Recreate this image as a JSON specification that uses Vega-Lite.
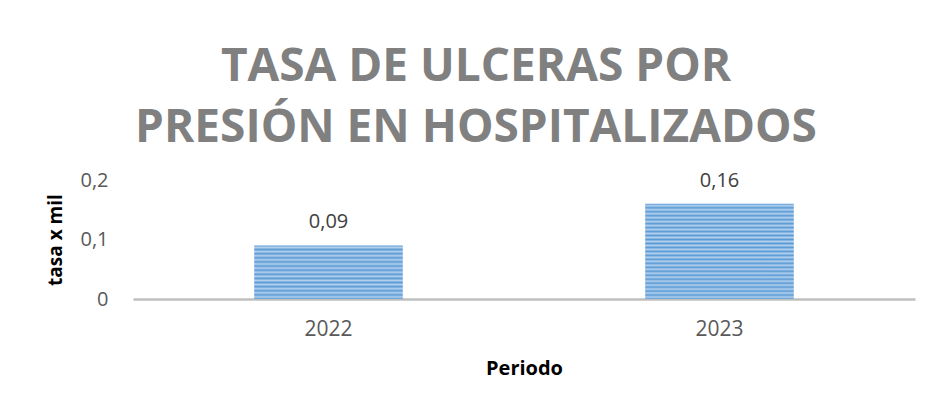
{
  "$schema": "https://vega.github.io/schema/vega-lite/v6.json",
  "width": 782,
  "height": 119,
  "autosize": {"type": "none"},
  "padding": {"left": 133, "top": 180, "right": 16, "bottom": 109},
  "background": "white",
  "config": {
    "view": {"stroke": null},
    "locale": {"number": {"decimal": ",", "thousands": ".", "grouping": [3], "currency": ["", " €"]}},
    "font": "Open Sans"
  },
  "title": {
    "text": ["TASA DE ULCERAS POR", "PRESIÓN EN HOSPITALIZADOS"],
    "font": "Open Sans",
    "fontSize": 46,
    "fontWeight": "bold",
    "color": "#808080",
    "lineHeight": 61,
    "anchor": "middle",
    "dx": -48,
    "offset": 18
  },
  "data": {
    "values": [
      {"periodo": "2022", "tasa": 0.09},
      {"periodo": "2023", "tasa": 0.16}
    ]
  },
  "encoding": {
    "x": {
      "field": "periodo",
      "type": "nominal",
      "scale": {"paddingInner": 0.62, "paddingOuter": 0.31},
      "axis": {
        "title": "Periodo",
        "labelAngle": 0,
        "labelFont": "Open Sans",
        "labelFontSize": 21,
        "labelColor": "#595959",
        "labelPadding": 19,
        "ticks": false,
        "domainColor": "#bfbfbf",
        "domainWidth": 2.5,
        "titleFont": "Open Sans",
        "titleFontSize": 20,
        "titleFontWeight": "bold",
        "titleColor": "#000000",
        "titlePadding": 19
      }
    },
    "y": {
      "field": "tasa",
      "type": "quantitative",
      "scale": {"domain": [0, 0.2], "nice": false},
      "axis": {
        "title": "tasa x mil",
        "values": [0, 0.1, 0.2],
        "format": ".1~f",
        "grid": false,
        "domain": false,
        "ticks": false,
        "labelFont": "Open Sans",
        "labelFontSize": 20,
        "labelColor": "#595959",
        "labelPadding": 25,
        "titleFont": "Open Sans",
        "titleFontSize": 19,
        "titleFontWeight": "bold",
        "titleColor": "#000000",
        "titlePadding": 14
      }
    }
  },
  "layer": [
    {
      "transform": [{"filter": "datum.periodo == '2022'"}],
      "mark": {
        "type": "bar",
        "color": {
          "gradient": "linear", "x1": 0, "y1": 0, "x2": 0, "y2": 1,
          "stops": [
            {"offset": 0, "color": "#5b9bd5"}, {"offset": 0.0385, "color": "#b3d0ee"},
            {"offset": 0.0769, "color": "#5b9bd5"}, {"offset": 0.1154, "color": "#b3d0ee"},
            {"offset": 0.1538, "color": "#5b9bd5"}, {"offset": 0.1923, "color": "#b3d0ee"},
            {"offset": 0.2308, "color": "#5b9bd5"}, {"offset": 0.2692, "color": "#b3d0ee"},
            {"offset": 0.3077, "color": "#5b9bd5"}, {"offset": 0.3462, "color": "#b3d0ee"},
            {"offset": 0.3846, "color": "#5b9bd5"}, {"offset": 0.4231, "color": "#b3d0ee"},
            {"offset": 0.4615, "color": "#5b9bd5"}, {"offset": 0.5, "color": "#b3d0ee"},
            {"offset": 0.5385, "color": "#5b9bd5"}, {"offset": 0.5769, "color": "#b3d0ee"},
            {"offset": 0.6154, "color": "#5b9bd5"}, {"offset": 0.6538, "color": "#b3d0ee"},
            {"offset": 0.6923, "color": "#5b9bd5"}, {"offset": 0.7308, "color": "#b3d0ee"},
            {"offset": 0.7692, "color": "#5b9bd5"}, {"offset": 0.8077, "color": "#b3d0ee"},
            {"offset": 0.8462, "color": "#5b9bd5"}, {"offset": 0.8846, "color": "#b3d0ee"},
            {"offset": 0.9231, "color": "#5b9bd5"}, {"offset": 0.9615, "color": "#b3d0ee"},
            {"offset": 1, "color": "#5b9bd5"}
          ]
        }
      }
    },
    {
      "transform": [{"filter": "datum.periodo == '2023'"}],
      "mark": {
        "type": "bar",
        "color": {
          "gradient": "linear", "x1": 0, "y1": 0, "x2": 0, "y2": 1,
          "stops": [
            {"offset": 0, "color": "#5b9bd5"}, {"offset": 0.0208, "color": "#b3d0ee"},
            {"offset": 0.0417, "color": "#5b9bd5"}, {"offset": 0.0625, "color": "#b3d0ee"},
            {"offset": 0.0833, "color": "#5b9bd5"}, {"offset": 0.1042, "color": "#b3d0ee"},
            {"offset": 0.125, "color": "#5b9bd5"}, {"offset": 0.1458, "color": "#b3d0ee"},
            {"offset": 0.1667, "color": "#5b9bd5"}, {"offset": 0.1875, "color": "#b3d0ee"},
            {"offset": 0.2083, "color": "#5b9bd5"}, {"offset": 0.2292, "color": "#b3d0ee"},
            {"offset": 0.25, "color": "#5b9bd5"}, {"offset": 0.2708, "color": "#b3d0ee"},
            {"offset": 0.2917, "color": "#5b9bd5"}, {"offset": 0.3125, "color": "#b3d0ee"},
            {"offset": 0.3333, "color": "#5b9bd5"}, {"offset": 0.3542, "color": "#b3d0ee"},
            {"offset": 0.375, "color": "#5b9bd5"}, {"offset": 0.3958, "color": "#b3d0ee"},
            {"offset": 0.4167, "color": "#5b9bd5"}, {"offset": 0.4375, "color": "#b3d0ee"},
            {"offset": 0.4583, "color": "#5b9bd5"}, {"offset": 0.4792, "color": "#b3d0ee"},
            {"offset": 0.5, "color": "#5b9bd5"}, {"offset": 0.5208, "color": "#b3d0ee"},
            {"offset": 0.5417, "color": "#5b9bd5"}, {"offset": 0.5625, "color": "#b3d0ee"},
            {"offset": 0.5833, "color": "#5b9bd5"}, {"offset": 0.6042, "color": "#b3d0ee"},
            {"offset": 0.625, "color": "#5b9bd5"}, {"offset": 0.6458, "color": "#b3d0ee"},
            {"offset": 0.6667, "color": "#5b9bd5"}, {"offset": 0.6875, "color": "#b3d0ee"},
            {"offset": 0.7083, "color": "#5b9bd5"}, {"offset": 0.7292, "color": "#b3d0ee"},
            {"offset": 0.75, "color": "#5b9bd5"}, {"offset": 0.7708, "color": "#b3d0ee"},
            {"offset": 0.7917, "color": "#5b9bd5"}, {"offset": 0.8125, "color": "#b3d0ee"},
            {"offset": 0.8333, "color": "#5b9bd5"}, {"offset": 0.8542, "color": "#b3d0ee"},
            {"offset": 0.875, "color": "#5b9bd5"}, {"offset": 0.8958, "color": "#b3d0ee"},
            {"offset": 0.9167, "color": "#5b9bd5"}, {"offset": 0.9375, "color": "#b3d0ee"},
            {"offset": 0.9583, "color": "#5b9bd5"}, {"offset": 0.9792, "color": "#b3d0ee"},
            {"offset": 1, "color": "#5b9bd5"}
          ]
        }
      }
    },
    {
      "mark": {"type": "text", "baseline": "bottom", "dy": -13, "font": "Open Sans", "fontSize": 20, "color": "#404040"},
      "encoding": {
        "text": {"field": "tasa", "type": "quantitative", "format": ".2f"}
      }
    }
  ]
}
